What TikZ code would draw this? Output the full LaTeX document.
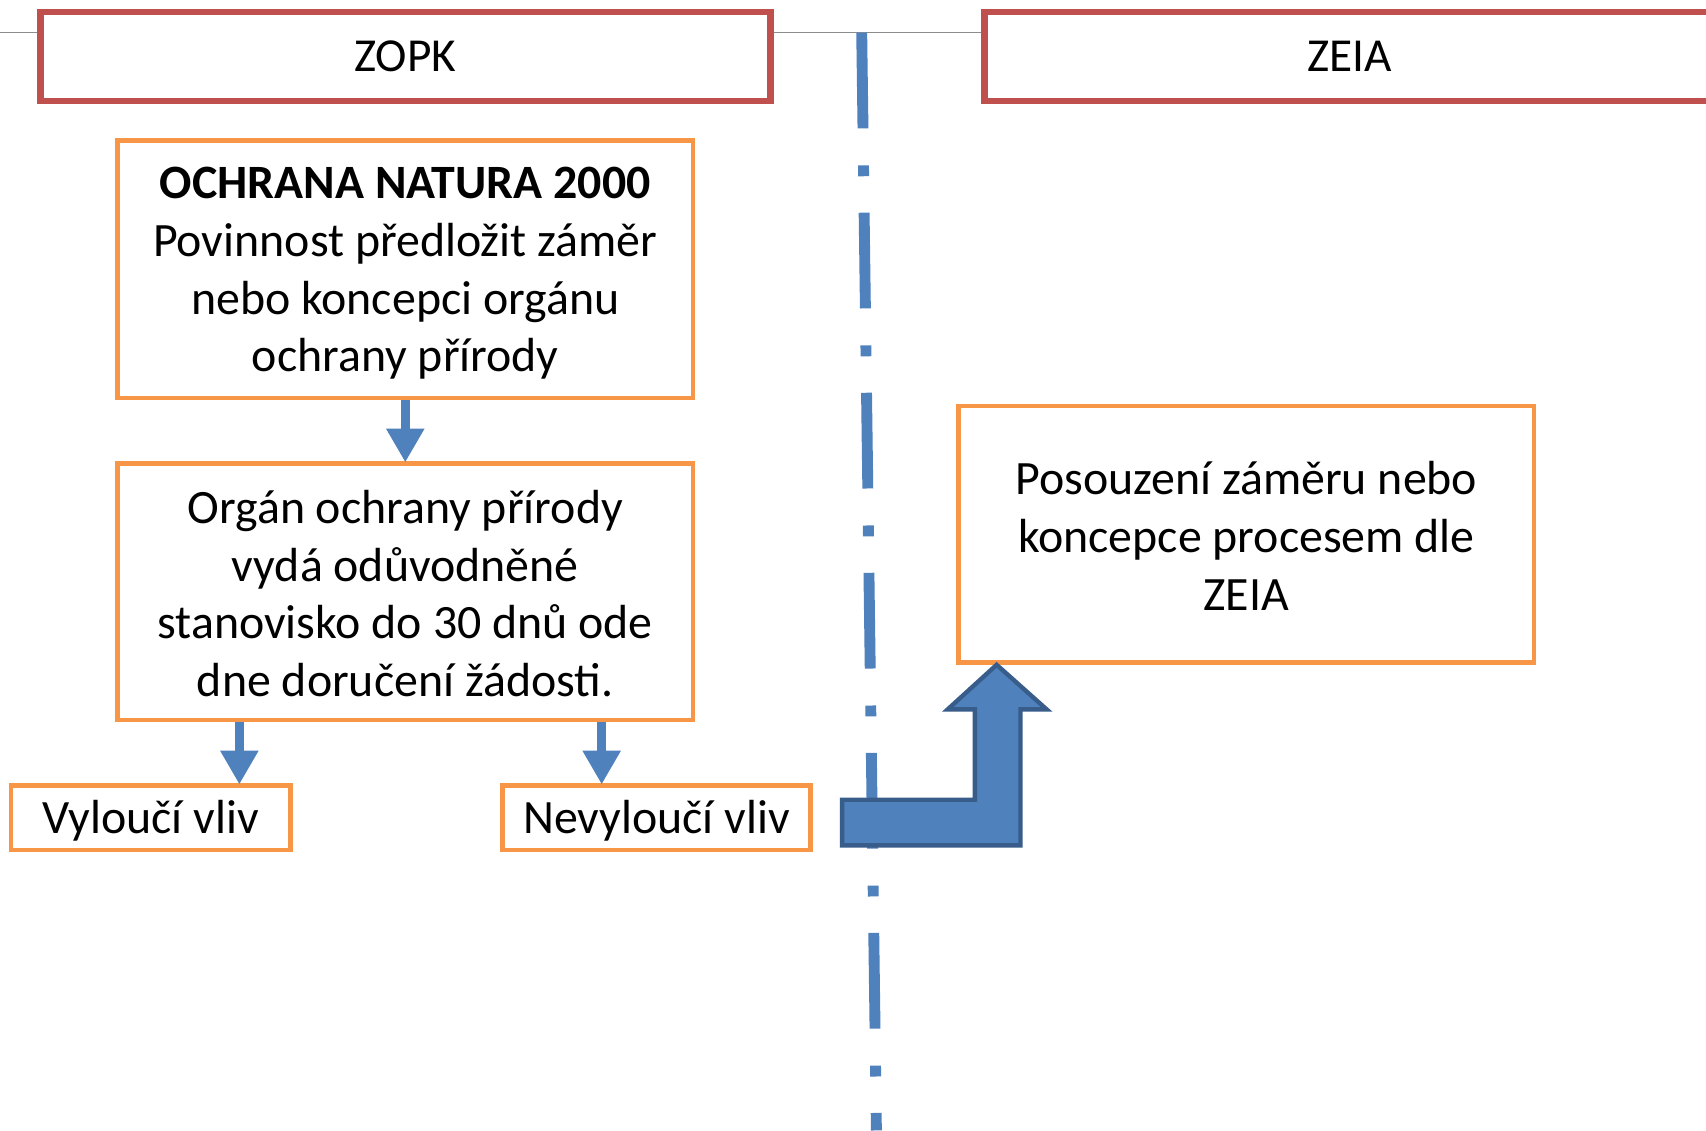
\documentclass[tikz,border=0pt]{standalone}
\usepackage{fontspec}
\setmainfont{Carlito}
\usetikzlibrary{arrows.meta}
\definecolor{redb}{HTML}{C0504D}
\definecolor{orab}{HTML}{F79646}
\definecolor{blu}{HTML}{4F81BD}
\definecolor{bludk}{HTML}{385D8A}
\tikzset{
  hdrbox/.style={draw=redb, line width=6pt, fill=white, inner sep=0pt, font=\fontsize{43.5}{53}\selectfont},
  obox/.style={draw=orab, line width=4pt, fill=white, inner sep=0pt},
  txt/.style={align=center, inner sep=0pt, font=\fontsize{44}{53}\selectfont},
  darr/.style={draw=blu, line width=8pt, -{Triangle[width=33pt,length=31pt]}, shorten >=-1pt},
}
\begin{document}
\begin{tikzpicture}[x=1pt,y=-1pt]
\clip (0,0) rectangle (1568,1039);
\fill[white] (0,0) rectangle (1568,1039);
% gray baseline
\coordinate (gl) at (0,30);
\coordinate (gr) at (1568,30);
\draw[gray!90, line width=1.5pt] (gl) -- (gr);
% header boxes
\node[hdrbox, minimum width=671pt, minimum height=82pt] (zopk) at (372.5,52) {ZOPK};
\node[hdrbox, minimum width=671pt, minimum height=82pt] (zeia) at (1240.5,52) {ZEIA};
% dash-dot divider
\coordinate (dt) at (792,30);
\coordinate (db) at (805.5,1039);
\draw[blu, line width=10pt, dash pattern=on 88pt off 34pt on 10pt off 33.5pt] (dt) -- (db);
% boxes
\node[obox, minimum width=529pt, minimum height=237pt,
  label={[txt, yshift=-4pt]center:\textbf{OCHRANA NATURA 2000}\\Povinnost předložit záměr\\nebo koncepci orgánu\\ochrany přírody}]
  (b1) at (372.5,247.5) {};
\node[obox, minimum width=529pt, minimum height=236pt,
  label={[txt, yshift=-1.5pt]center:Orgán ochrany přírody\\vydá odůvodněné\\stanovisko do 30 dnů ode\\dne doručení žádosti.}]
  (b2) at (372.5,544) {};
\node[obox, minimum width=257pt, minimum height=59pt,
  label={[txt, yshift=-2.5pt]center:Vyloučí vliv}] (v1) at (138.5,751.5) {};
\node[obox, minimum width=283pt, minimum height=59pt,
  label={[txt, yshift=-2.5pt]center:Nevyloučí vliv}] (v2) at (603.5,751.5) {};
\node[obox, minimum width=529pt, minimum height=236pt,
  label={[txt, yshift=-1.5pt]center:Posouzení záměru nebo\\koncepce procesem dle\\ZEIA}]
  (zb) at (1145.5,491) {};
% arrows
\draw[darr] (b1.south) -- (b2.north);
\draw[darr] (b2.south -| 220,0) -- (v1.north -| 220,0);
\draw[darr] (b2.south -| 553,0) -- (v2.north -| 553,0);
% bent block arrow
\coordinate (bt) at (916,611);
\draw[fill=blu, draw=bludk, line width=4pt, line join=miter]
  (774,735) -- (896,735) -- (896,652) -- (871,652) -- (bt) -- (962,652) -- (938,652) -- (938,777) -- (774,777) -- cycle;
\end{tikzpicture}
\end{document}
